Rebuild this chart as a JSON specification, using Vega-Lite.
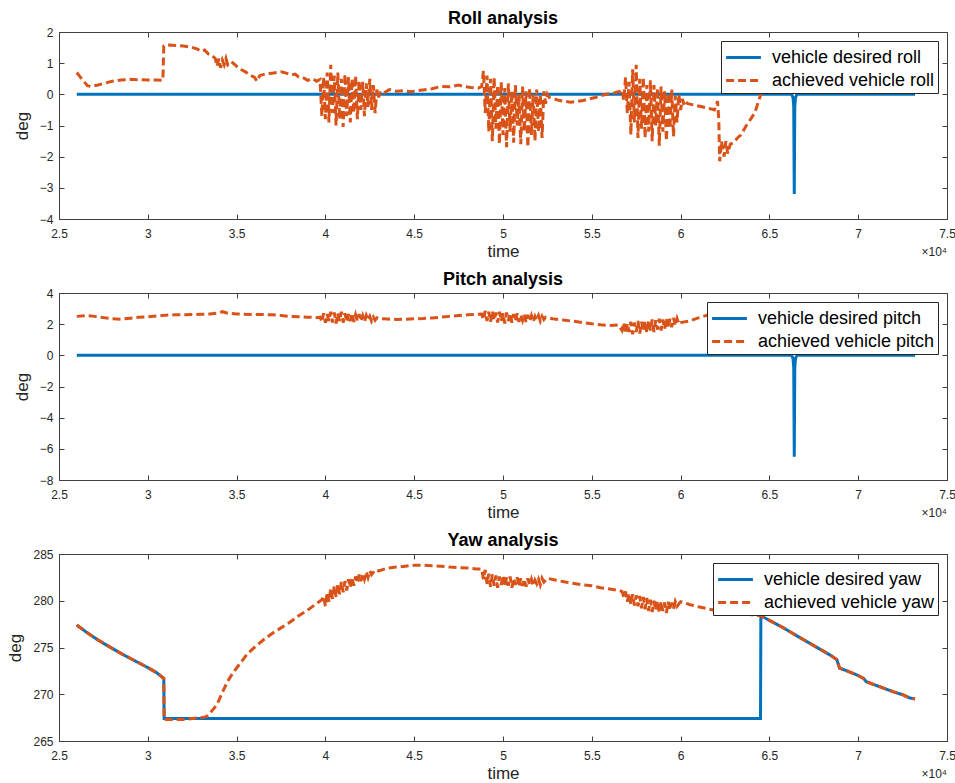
{
  "$schema": "https://vega.github.io/schema/vega-lite/v6.json",
  "background": "white",
  "padding": {"left": 6, "top": 9, "right": 5, "bottom": 2},
  "spacing": 10,
  "config": {
    "font": "Liberation Sans",
    "view": {"stroke": "#404040", "strokeWidth": 1},
    "title": {"fontSize": 18, "fontWeight": "bold", "color": "black", "offset": -2, "font": "Liberation Sans"},
    "axis": {"grid": false, "domain": false, "tickColor": "#404040", "tickSize": -5, "labelColor": "#262626", "labelFontSize": 12, "labelFont": "Liberation Sans", "labelFlush": false, "labelOverlap": false, "titleFont": "Liberation Sans", "titleFontSize": 17, "titleFontWeight": "normal", "titleColor": "#262626"},
    "legend": {"orient": "top-right", "offset": 9, "fillColor": "white", "strokeColor": "#262626", "padding": 3, "labelFontSize": 18, "labelColor": "black", "labelFont": "Liberation Sans", "labelLimit": 0, "symbolType": "M-1.45,0H1.45", "symbolSize": 576, "symbolOffset": 6, "symbolStrokeWidth": 3, "title": null, "rowPadding": 0, "labelOffset": 15}
  },
  "datasets": {
    "roll": [
      {"s":"vehicle desired roll","t":26000,"v":0},{"s":"vehicle desired roll","t":66250,"v":0},{"s":"vehicle desired roll","t":66330,"v":-0.1},{"s":"vehicle desired roll","t":66370,"v":-0.4},{"s":"vehicle desired roll","t":66400,"v":-3.2},{"s":"vehicle desired roll","t":66430,"v":-0.4},{"s":"vehicle desired roll","t":66470,"v":-0.1},{"s":"vehicle desired roll","t":66550,"v":0},{"s":"vehicle desired roll","t":73200,"v":0},
      {"s":"achieved vehicle roll","t":26000,"v":0.7},{"s":"achieved vehicle roll","t":26300,"v":0.48},{"s":"achieved vehicle roll","t":26600,"v":0.28},{"s":"achieved vehicle roll","t":26800,"v":0.25},{"s":"achieved vehicle roll","t":27200,"v":0.3},{"s":"achieved vehicle roll","t":27600,"v":0.36},{"s":"achieved vehicle roll","t":28000,"v":0.42},{"s":"achieved vehicle roll","t":28500,"v":0.46},{"s":"achieved vehicle roll","t":29000,"v":0.48},{"s":"achieved vehicle roll","t":29500,"v":0.47},{"s":"achieved vehicle roll","t":30000,"v":0.46},{"s":"achieved vehicle roll","t":30500,"v":0.46},{"s":"achieved vehicle roll","t":30850,"v":0.45},{"s":"achieved vehicle roll","t":30900,"v":1.55},{"s":"achieved vehicle roll","t":31200,"v":1.58},{"s":"achieved vehicle roll","t":31600,"v":1.57},{"s":"achieved vehicle roll","t":32000,"v":1.55},{"s":"achieved vehicle roll","t":32400,"v":1.52},{"s":"achieved vehicle roll","t":32800,"v":1.45},{"s":"achieved vehicle roll","t":33000,"v":1.38},{"s":"achieved vehicle roll","t":33200,"v":1.42},{"s":"achieved vehicle roll","t":33400,"v":1.3},{"s":"achieved vehicle roll","t":33600,"v":1.25},{"s":"achieved vehicle roll","t":33800,"v":1.15},{"s":"achieved vehicle roll","t":33900,"v":0.9},{"s":"achieved vehicle roll","t":34000,"v":1.15},{"s":"achieved vehicle roll","t":34100,"v":0.85},{"s":"achieved vehicle roll","t":34200,"v":1.1},{"s":"achieved vehicle roll","t":34300,"v":0.95},{"s":"achieved vehicle roll","t":34400,"v":1.15},{"s":"achieved vehicle roll","t":34500,"v":0.95},{"s":"achieved vehicle roll","t":34700,"v":1.05},{"s":"achieved vehicle roll","t":34900,"v":0.95},{"s":"achieved vehicle roll","t":35100,"v":0.85},{"s":"achieved vehicle roll","t":35300,"v":0.78},{"s":"achieved vehicle roll","t":35500,"v":0.72},{"s":"achieved vehicle roll","t":35800,"v":0.6},{"s":"achieved vehicle roll","t":36000,"v":0.55},{"s":"achieved vehicle roll","t":36150,"v":0.42},{"s":"achieved vehicle roll","t":36300,"v":0.6},{"s":"achieved vehicle roll","t":36600,"v":0.65},{"s":"achieved vehicle roll","t":37000,"v":0.68},{"s":"achieved vehicle roll","t":37500,"v":0.72},{"s":"achieved vehicle roll","t":37800,"v":0.68},{"s":"achieved vehicle roll","t":38100,"v":0.62},{"s":"achieved vehicle roll","t":38300,"v":0.65},{"s":"achieved vehicle roll","t":38500,"v":0.55},{"s":"achieved vehicle roll","t":38800,"v":0.52},{"s":"achieved vehicle roll","t":39000,"v":0.45},{"s":"achieved vehicle roll","t":39300,"v":0.5},{"s":"achieved vehicle roll","t":39500,"v":0.42},{"s":"achieved vehicle roll","t":39700,"v":0.48},
      {"s":"achieved vehicle roll","t":39800,"v":-0.7},{"s":"achieved vehicle roll","t":39900,"v":0.55},{"s":"achieved vehicle roll","t":40000,"v":-0.8},{"s":"achieved vehicle roll","t":40100,"v":0.7},{"s":"achieved vehicle roll","t":40200,"v":-0.9},{"s":"achieved vehicle roll","t":40300,"v":0.95},{"s":"achieved vehicle roll","t":40400,"v":-0.6},{"s":"achieved vehicle roll","t":40500,"v":0.6},{"s":"achieved vehicle roll","t":40600,"v":-1.0},{"s":"achieved vehicle roll","t":40700,"v":0.7},{"s":"achieved vehicle roll","t":40800,"v":-0.8},{"s":"achieved vehicle roll","t":40900,"v":0.5},{"s":"achieved vehicle roll","t":41000,"v":-1.05},{"s":"achieved vehicle roll","t":41100,"v":0.65},{"s":"achieved vehicle roll","t":41200,"v":-0.7},{"s":"achieved vehicle roll","t":41300,"v":0.55},{"s":"achieved vehicle roll","t":41400,"v":-0.9},{"s":"achieved vehicle roll","t":41500,"v":0.5},{"s":"achieved vehicle roll","t":41600,"v":-0.6},{"s":"achieved vehicle roll","t":41700,"v":0.6},{"s":"achieved vehicle roll","t":41800,"v":-0.8},{"s":"achieved vehicle roll","t":41900,"v":0.45},{"s":"achieved vehicle roll","t":42000,"v":-0.5},{"s":"achieved vehicle roll","t":42100,"v":0.4},{"s":"achieved vehicle roll","t":42200,"v":-0.7},{"s":"achieved vehicle roll","t":42300,"v":0.35},{"s":"achieved vehicle roll","t":42400,"v":-0.4},{"s":"achieved vehicle roll","t":42500,"v":0.5},{"s":"achieved vehicle roll","t":42600,"v":-0.5},{"s":"achieved vehicle roll","t":42700,"v":0.3},{"s":"achieved vehicle roll","t":42800,"v":-0.6},{"s":"achieved vehicle roll","t":42900,"v":0.15},{"s":"achieved vehicle roll","t":43000,"v":-0.1},{"s":"achieved vehicle roll","t":43100,"v":0.1},{"s":"achieved vehicle roll","t":43300,"v":0.05},{"s":"achieved vehicle roll","t":43600,"v":0.15},{"s":"achieved vehicle roll","t":44000,"v":0.1},{"s":"achieved vehicle roll","t":44400,"v":0.12},{"s":"achieved vehicle roll","t":44800,"v":0.08},{"s":"achieved vehicle roll","t":45200,"v":0.12},{"s":"achieved vehicle roll","t":45600,"v":0.15},{"s":"achieved vehicle roll","t":46000,"v":0.18},{"s":"achieved vehicle roll","t":46500,"v":0.25},{"s":"achieved vehicle roll","t":47000,"v":0.24},{"s":"achieved vehicle roll","t":47500,"v":0.3},{"s":"achieved vehicle roll","t":47800,"v":0.25},{"s":"achieved vehicle roll","t":48200,"v":0.22},{"s":"achieved vehicle roll","t":48600,"v":0.2},{"s":"achieved vehicle roll","t":48800,"v":0.25},
      {"s":"achieved vehicle roll","t":48900,"v":0.75},{"s":"achieved vehicle roll","t":49000,"v":-0.6},{"s":"achieved vehicle roll","t":49100,"v":0.6},{"s":"achieved vehicle roll","t":49200,"v":-1.2},{"s":"achieved vehicle roll","t":49300,"v":0.5},{"s":"achieved vehicle roll","t":49400,"v":-1.5},{"s":"achieved vehicle roll","t":49500,"v":0.55},{"s":"achieved vehicle roll","t":49600,"v":-1.1},{"s":"achieved vehicle roll","t":49700,"v":0.3},{"s":"achieved vehicle roll","t":49800,"v":-1.6},{"s":"achieved vehicle roll","t":49900,"v":0.4},{"s":"achieved vehicle roll","t":50000,"v":-1.3},{"s":"achieved vehicle roll","t":50100,"v":0.2},{"s":"achieved vehicle roll","t":50200,"v":-1.7},{"s":"achieved vehicle roll","t":50300,"v":0.35},{"s":"achieved vehicle roll","t":50400,"v":-1.2},{"s":"achieved vehicle roll","t":50500,"v":0.1},{"s":"achieved vehicle roll","t":50600,"v":-1.55},{"s":"achieved vehicle roll","t":50700,"v":0.3},{"s":"achieved vehicle roll","t":50800,"v":-1.0},{"s":"achieved vehicle roll","t":50900,"v":0.0},{"s":"achieved vehicle roll","t":51000,"v":-1.6},{"s":"achieved vehicle roll","t":51100,"v":0.25},{"s":"achieved vehicle roll","t":51200,"v":-1.2},{"s":"achieved vehicle roll","t":51300,"v":0.1},{"s":"achieved vehicle roll","t":51400,"v":-1.7},{"s":"achieved vehicle roll","t":51500,"v":0.2},{"s":"achieved vehicle roll","t":51600,"v":-1.3},{"s":"achieved vehicle roll","t":51700,"v":0.0},{"s":"achieved vehicle roll","t":51800,"v":-1.5},{"s":"achieved vehicle roll","t":51900,"v":0.15},{"s":"achieved vehicle roll","t":52000,"v":-1.2},{"s":"achieved vehicle roll","t":52100,"v":0.0},{"s":"achieved vehicle roll","t":52200,"v":-1.4},{"s":"achieved vehicle roll","t":52300,"v":0.1},{"s":"achieved vehicle roll","t":52400,"v":-0.3},{"s":"achieved vehicle roll","t":52500,"v":0.0},
      {"s":"achieved vehicle roll","t":52600,"v":-0.1},{"s":"achieved vehicle roll","t":53200,"v":-0.2},{"s":"achieved vehicle roll","t":53800,"v":-0.25},{"s":"achieved vehicle roll","t":54500,"v":-0.2},{"s":"achieved vehicle roll","t":55200,"v":-0.1},{"s":"achieved vehicle roll","t":55800,"v":0.0},{"s":"achieved vehicle roll","t":56300,"v":0.05},{"s":"achieved vehicle roll","t":56600,"v":0.1},
      {"s":"achieved vehicle roll","t":56700,"v":0.15},{"s":"achieved vehicle roll","t":56800,"v":-0.2},{"s":"achieved vehicle roll","t":56900,"v":0.55},{"s":"achieved vehicle roll","t":57000,"v":-0.6},{"s":"achieved vehicle roll","t":57100,"v":0.4},{"s":"achieved vehicle roll","t":57200,"v":-1.3},{"s":"achieved vehicle roll","t":57300,"v":0.8},{"s":"achieved vehicle roll","t":57400,"v":-0.9},{"s":"achieved vehicle roll","t":57500,"v":0.95},{"s":"achieved vehicle roll","t":57600,"v":-1.4},{"s":"achieved vehicle roll","t":57700,"v":0.5},{"s":"achieved vehicle roll","t":57800,"v":-1.1},{"s":"achieved vehicle roll","t":57900,"v":0.55},{"s":"achieved vehicle roll","t":58000,"v":-1.4},{"s":"achieved vehicle roll","t":58100,"v":0.3},{"s":"achieved vehicle roll","t":58200,"v":-1.2},{"s":"achieved vehicle roll","t":58300,"v":0.45},{"s":"achieved vehicle roll","t":58400,"v":-1.5},{"s":"achieved vehicle roll","t":58500,"v":0.3},{"s":"achieved vehicle roll","t":58600,"v":-1.0},{"s":"achieved vehicle roll","t":58700,"v":0.2},{"s":"achieved vehicle roll","t":58800,"v":-1.65},{"s":"achieved vehicle roll","t":58900,"v":0.25},{"s":"achieved vehicle roll","t":59000,"v":-1.2},{"s":"achieved vehicle roll","t":59100,"v":0.1},{"s":"achieved vehicle roll","t":59200,"v":-1.5},{"s":"achieved vehicle roll","t":59300,"v":0.05},{"s":"achieved vehicle roll","t":59400,"v":-1.1},{"s":"achieved vehicle roll","t":59500,"v":0.15},{"s":"achieved vehicle roll","t":59600,"v":-1.35},{"s":"achieved vehicle roll","t":59700,"v":-0.05},{"s":"achieved vehicle roll","t":59800,"v":-0.9},{"s":"achieved vehicle roll","t":59900,"v":0.0},{"s":"achieved vehicle roll","t":60000,"v":-0.5},{"s":"achieved vehicle roll","t":60100,"v":-0.15},{"s":"achieved vehicle roll","t":60200,"v":-0.35},{"s":"achieved vehicle roll","t":60300,"v":-0.25},
      {"s":"achieved vehicle roll","t":60400,"v":-0.3},{"s":"achieved vehicle roll","t":60800,"v":-0.35},{"s":"achieved vehicle roll","t":61200,"v":-0.4},{"s":"achieved vehicle roll","t":61600,"v":-0.45},{"s":"achieved vehicle roll","t":61900,"v":-0.5},{"s":"achieved vehicle roll","t":62080,"v":-0.22},{"s":"achieved vehicle roll","t":62150,"v":-0.8},{"s":"achieved vehicle roll","t":62200,"v":-2.15},{"s":"achieved vehicle roll","t":62300,"v":-1.5},{"s":"achieved vehicle roll","t":62450,"v":-2.0},{"s":"achieved vehicle roll","t":62550,"v":-1.5},{"s":"achieved vehicle roll","t":62650,"v":-1.9},{"s":"achieved vehicle roll","t":62800,"v":-1.6},{"s":"achieved vehicle roll","t":63000,"v":-1.55},{"s":"achieved vehicle roll","t":63200,"v":-1.4},{"s":"achieved vehicle roll","t":63400,"v":-1.3},{"s":"achieved vehicle roll","t":63700,"v":-1.0},{"s":"achieved vehicle roll","t":64000,"v":-0.75},{"s":"achieved vehicle roll","t":64200,"v":-0.55},{"s":"achieved vehicle roll","t":64400,"v":-0.2},{"s":"achieved vehicle roll","t":64550,"v":0.05},{"s":"achieved vehicle roll","t":64680,"v":0.28}
    ],
    "pitch": [
      {"s":"vehicle desired pitch","t":26000,"v":0},{"s":"vehicle desired pitch","t":66250,"v":0},{"s":"vehicle desired pitch","t":66330,"v":-0.2},{"s":"vehicle desired pitch","t":66370,"v":-0.8},{"s":"vehicle desired pitch","t":66400,"v":-6.5},{"s":"vehicle desired pitch","t":66430,"v":-0.8},{"s":"vehicle desired pitch","t":66470,"v":-0.2},{"s":"vehicle desired pitch","t":66550,"v":0},{"s":"vehicle desired pitch","t":73200,"v":0},
      {"s":"achieved vehicle pitch","t":26000,"v":2.5},{"s":"achieved vehicle pitch","t":26500,"v":2.55},{"s":"achieved vehicle pitch","t":27000,"v":2.5},{"s":"achieved vehicle pitch","t":27500,"v":2.42},{"s":"achieved vehicle pitch","t":28000,"v":2.35},{"s":"achieved vehicle pitch","t":28500,"v":2.32},{"s":"achieved vehicle pitch","t":29000,"v":2.38},{"s":"achieved vehicle pitch","t":29500,"v":2.45},{"s":"achieved vehicle pitch","t":30000,"v":2.47},{"s":"achieved vehicle pitch","t":30500,"v":2.52},{"s":"achieved vehicle pitch","t":31000,"v":2.58},{"s":"achieved vehicle pitch","t":31500,"v":2.6},{"s":"achieved vehicle pitch","t":32000,"v":2.6},{"s":"achieved vehicle pitch","t":32500,"v":2.62},{"s":"achieved vehicle pitch","t":33000,"v":2.63},{"s":"achieved vehicle pitch","t":33500,"v":2.65},{"s":"achieved vehicle pitch","t":34000,"v":2.72},{"s":"achieved vehicle pitch","t":34200,"v":2.8},{"s":"achieved vehicle pitch","t":34500,"v":2.7},{"s":"achieved vehicle pitch","t":35000,"v":2.66},{"s":"achieved vehicle pitch","t":35500,"v":2.63},{"s":"achieved vehicle pitch","t":36000,"v":2.62},{"s":"achieved vehicle pitch","t":36500,"v":2.62},{"s":"achieved vehicle pitch","t":37000,"v":2.6},{"s":"achieved vehicle pitch","t":37500,"v":2.56},{"s":"achieved vehicle pitch","t":38000,"v":2.5},{"s":"achieved vehicle pitch","t":38500,"v":2.47},{"s":"achieved vehicle pitch","t":39000,"v":2.45},{"s":"achieved vehicle pitch","t":39500,"v":2.42},{"s":"achieved vehicle pitch","t":39700,"v":2.45},
      {"s":"achieved vehicle pitch","t":39800,"v":2.15},{"s":"achieved vehicle pitch","t":39900,"v":2.7},{"s":"achieved vehicle pitch","t":40000,"v":2.1},{"s":"achieved vehicle pitch","t":40100,"v":2.65},{"s":"achieved vehicle pitch","t":40200,"v":2.2},{"s":"achieved vehicle pitch","t":40300,"v":2.8},{"s":"achieved vehicle pitch","t":40400,"v":2.1},{"s":"achieved vehicle pitch","t":40500,"v":2.75},{"s":"achieved vehicle pitch","t":40600,"v":2.05},{"s":"achieved vehicle pitch","t":40700,"v":2.7},{"s":"achieved vehicle pitch","t":40800,"v":2.2},{"s":"achieved vehicle pitch","t":40900,"v":2.8},{"s":"achieved vehicle pitch","t":41000,"v":2.1},{"s":"achieved vehicle pitch","t":41100,"v":2.7},{"s":"achieved vehicle pitch","t":41200,"v":2.15},{"s":"achieved vehicle pitch","t":41300,"v":2.65},{"s":"achieved vehicle pitch","t":41400,"v":2.2},{"s":"achieved vehicle pitch","t":41500,"v":2.7},{"s":"achieved vehicle pitch","t":41600,"v":2.15},{"s":"achieved vehicle pitch","t":41700,"v":2.6},{"s":"achieved vehicle pitch","t":41800,"v":2.2},{"s":"achieved vehicle pitch","t":41900,"v":2.65},{"s":"achieved vehicle pitch","t":42000,"v":2.2},{"s":"achieved vehicle pitch","t":42100,"v":2.55},{"s":"achieved vehicle pitch","t":42200,"v":2.15},{"s":"achieved vehicle pitch","t":42300,"v":2.55},{"s":"achieved vehicle pitch","t":42400,"v":2.25},{"s":"achieved vehicle pitch","t":42500,"v":2.5},{"s":"achieved vehicle pitch","t":42600,"v":2.2},{"s":"achieved vehicle pitch","t":42700,"v":2.45},{"s":"achieved vehicle pitch","t":42800,"v":2.25},{"s":"achieved vehicle pitch","t":42900,"v":2.4},{"s":"achieved vehicle pitch","t":43000,"v":2.35},
      {"s":"achieved vehicle pitch","t":43500,"v":2.33},{"s":"achieved vehicle pitch","t":44000,"v":2.3},{"s":"achieved vehicle pitch","t":44500,"v":2.32},{"s":"achieved vehicle pitch","t":45000,"v":2.34},{"s":"achieved vehicle pitch","t":45500,"v":2.36},{"s":"achieved vehicle pitch","t":46000,"v":2.4},{"s":"achieved vehicle pitch","t":46500,"v":2.45},{"s":"achieved vehicle pitch","t":47000,"v":2.5},{"s":"achieved vehicle pitch","t":47500,"v":2.55},{"s":"achieved vehicle pitch","t":48000,"v":2.6},{"s":"achieved vehicle pitch","t":48500,"v":2.63},{"s":"achieved vehicle pitch","t":48800,"v":2.65},
      {"s":"achieved vehicle pitch","t":48900,"v":2.3},{"s":"achieved vehicle pitch","t":49000,"v":2.85},{"s":"achieved vehicle pitch","t":49100,"v":2.2},{"s":"achieved vehicle pitch","t":49200,"v":2.8},{"s":"achieved vehicle pitch","t":49300,"v":2.15},{"s":"achieved vehicle pitch","t":49400,"v":2.85},{"s":"achieved vehicle pitch","t":49500,"v":2.25},{"s":"achieved vehicle pitch","t":49600,"v":2.75},{"s":"achieved vehicle pitch","t":49700,"v":2.1},{"s":"achieved vehicle pitch","t":49800,"v":2.8},{"s":"achieved vehicle pitch","t":49900,"v":2.2},{"s":"achieved vehicle pitch","t":50000,"v":2.7},{"s":"achieved vehicle pitch","t":50100,"v":2.05},{"s":"achieved vehicle pitch","t":50200,"v":2.75},{"s":"achieved vehicle pitch","t":50300,"v":2.2},{"s":"achieved vehicle pitch","t":50400,"v":2.7},{"s":"achieved vehicle pitch","t":50500,"v":2.1},{"s":"achieved vehicle pitch","t":50600,"v":2.65},{"s":"achieved vehicle pitch","t":50700,"v":2.2},{"s":"achieved vehicle pitch","t":50800,"v":2.7},{"s":"achieved vehicle pitch","t":50900,"v":2.15},{"s":"achieved vehicle pitch","t":51000,"v":2.6},{"s":"achieved vehicle pitch","t":51100,"v":2.25},{"s":"achieved vehicle pitch","t":51200,"v":2.65},{"s":"achieved vehicle pitch","t":51300,"v":2.1},{"s":"achieved vehicle pitch","t":51400,"v":2.6},{"s":"achieved vehicle pitch","t":51500,"v":2.2},{"s":"achieved vehicle pitch","t":51600,"v":2.55},{"s":"achieved vehicle pitch","t":51700,"v":2.15},{"s":"achieved vehicle pitch","t":51800,"v":2.5},{"s":"achieved vehicle pitch","t":51900,"v":2.25},{"s":"achieved vehicle pitch","t":52000,"v":2.55},{"s":"achieved vehicle pitch","t":52100,"v":2.2},{"s":"achieved vehicle pitch","t":52200,"v":2.5},{"s":"achieved vehicle pitch","t":52300,"v":2.3},{"s":"achieved vehicle pitch","t":52400,"v":2.45},
      {"s":"achieved vehicle pitch","t":52800,"v":2.35},{"s":"achieved vehicle pitch","t":53500,"v":2.25},{"s":"achieved vehicle pitch","t":54000,"v":2.18},{"s":"achieved vehicle pitch","t":54500,"v":2.1},{"s":"achieved vehicle pitch","t":55000,"v":2.02},{"s":"achieved vehicle pitch","t":55500,"v":1.96},{"s":"achieved vehicle pitch","t":56000,"v":1.92},{"s":"achieved vehicle pitch","t":56500,"v":1.95},
      {"s":"achieved vehicle pitch","t":56700,"v":1.6},{"s":"achieved vehicle pitch","t":56800,"v":2.1},{"s":"achieved vehicle pitch","t":56900,"v":1.4},{"s":"achieved vehicle pitch","t":57000,"v":2.05},{"s":"achieved vehicle pitch","t":57100,"v":1.5},{"s":"achieved vehicle pitch","t":57200,"v":2.15},{"s":"achieved vehicle pitch","t":57300,"v":1.35},{"s":"achieved vehicle pitch","t":57400,"v":2.1},{"s":"achieved vehicle pitch","t":57500,"v":1.5},{"s":"achieved vehicle pitch","t":57600,"v":2.2},{"s":"achieved vehicle pitch","t":57700,"v":1.4},{"s":"achieved vehicle pitch","t":57800,"v":2.15},{"s":"achieved vehicle pitch","t":57900,"v":1.55},{"s":"achieved vehicle pitch","t":58000,"v":2.2},{"s":"achieved vehicle pitch","t":58100,"v":1.45},{"s":"achieved vehicle pitch","t":58200,"v":2.25},{"s":"achieved vehicle pitch","t":58300,"v":1.6},{"s":"achieved vehicle pitch","t":58400,"v":2.3},{"s":"achieved vehicle pitch","t":58500,"v":1.5},{"s":"achieved vehicle pitch","t":58600,"v":2.25},{"s":"achieved vehicle pitch","t":58700,"v":1.65},{"s":"achieved vehicle pitch","t":58800,"v":2.35},{"s":"achieved vehicle pitch","t":58900,"v":1.6},{"s":"achieved vehicle pitch","t":59000,"v":2.3},{"s":"achieved vehicle pitch","t":59100,"v":1.7},{"s":"achieved vehicle pitch","t":59200,"v":2.4},{"s":"achieved vehicle pitch","t":59300,"v":1.75},{"s":"achieved vehicle pitch","t":59400,"v":2.35},{"s":"achieved vehicle pitch","t":59500,"v":1.8},{"s":"achieved vehicle pitch","t":59600,"v":2.4},{"s":"achieved vehicle pitch","t":59700,"v":1.9},{"s":"achieved vehicle pitch","t":59800,"v":2.35},{"s":"achieved vehicle pitch","t":59900,"v":2.0},{"s":"achieved vehicle pitch","t":60000,"v":2.1},
      {"s":"achieved vehicle pitch","t":60500,"v":2.2},{"s":"achieved vehicle pitch","t":61000,"v":2.4},{"s":"achieved vehicle pitch","t":61500,"v":2.58},{"s":"achieved vehicle pitch","t":62000,"v":2.7},{"s":"achieved vehicle pitch","t":62500,"v":2.8},{"s":"achieved vehicle pitch","t":63000,"v":2.85},{"s":"achieved vehicle pitch","t":63500,"v":2.9},{"s":"achieved vehicle pitch","t":64000,"v":2.95},{"s":"achieved vehicle pitch","t":64600,"v":3.0}
    ],
    "yaw": [
      {"s":"vehicle desired yaw","t":26000,"v":277.4},{"s":"vehicle desired yaw","t":26500,"v":276.7},{"s":"vehicle desired yaw","t":27000,"v":276.05},{"s":"vehicle desired yaw","t":27500,"v":275.45},{"s":"vehicle desired yaw","t":28000,"v":274.9},{"s":"vehicle desired yaw","t":28500,"v":274.35},{"s":"vehicle desired yaw","t":29000,"v":273.85},{"s":"vehicle desired yaw","t":29500,"v":273.35},{"s":"vehicle desired yaw","t":30000,"v":272.85},{"s":"vehicle desired yaw","t":30500,"v":272.3},{"s":"vehicle desired yaw","t":30900,"v":271.7},{"s":"vehicle desired yaw","t":30920,"v":267.4},{"s":"vehicle desired yaw","t":64500,"v":267.4},{"s":"vehicle desired yaw","t":64520,"v":278.4},{"s":"vehicle desired yaw","t":65000,"v":277.9},{"s":"vehicle desired yaw","t":65700,"v":277.2},{"s":"vehicle desired yaw","t":66500,"v":276.3},{"s":"vehicle desired yaw","t":67500,"v":275.2},{"s":"vehicle desired yaw","t":68500,"v":274.1},{"s":"vehicle desired yaw","t":68800,"v":273.7},{"s":"vehicle desired yaw","t":68880,"v":273.2},{"s":"vehicle desired yaw","t":68950,"v":272.8},{"s":"vehicle desired yaw","t":69500,"v":272.4},{"s":"vehicle desired yaw","t":70000,"v":272.0},{"s":"vehicle desired yaw","t":70300,"v":271.7},{"s":"vehicle desired yaw","t":70450,"v":271.35},{"s":"vehicle desired yaw","t":71000,"v":270.95},{"s":"vehicle desired yaw","t":71500,"v":270.6},{"s":"vehicle desired yaw","t":72000,"v":270.25},{"s":"vehicle desired yaw","t":72500,"v":269.95},{"s":"vehicle desired yaw","t":72900,"v":269.6},{"s":"vehicle desired yaw","t":73200,"v":269.5},
      {"s":"achieved vehicle yaw","t":26000,"v":277.4},{"s":"achieved vehicle yaw","t":26500,"v":276.7},{"s":"achieved vehicle yaw","t":27000,"v":276.05},{"s":"achieved vehicle yaw","t":27500,"v":275.45},{"s":"achieved vehicle yaw","t":28000,"v":274.9},{"s":"achieved vehicle yaw","t":28500,"v":274.35},{"s":"achieved vehicle yaw","t":29000,"v":273.85},{"s":"achieved vehicle yaw","t":29500,"v":273.35},{"s":"achieved vehicle yaw","t":30000,"v":272.85},{"s":"achieved vehicle yaw","t":30500,"v":272.3},{"s":"achieved vehicle yaw","t":30900,"v":271.7},{"s":"achieved vehicle yaw","t":30920,"v":267.3},{"s":"achieved vehicle yaw","t":31500,"v":267.3},{"s":"achieved vehicle yaw","t":32000,"v":267.3},{"s":"achieved vehicle yaw","t":32500,"v":267.4},{"s":"achieved vehicle yaw","t":33000,"v":267.5},{"s":"achieved vehicle yaw","t":33300,"v":267.6},{"s":"achieved vehicle yaw","t":33600,"v":268.2},{"s":"achieved vehicle yaw","t":33900,"v":268.9},{"s":"achieved vehicle yaw","t":34200,"v":270.2},{"s":"achieved vehicle yaw","t":34500,"v":271.4},{"s":"achieved vehicle yaw","t":34800,"v":272.3},{"s":"achieved vehicle yaw","t":35200,"v":273.3},{"s":"achieved vehicle yaw","t":35600,"v":274.3},{"s":"achieved vehicle yaw","t":36000,"v":275.0},{"s":"achieved vehicle yaw","t":36500,"v":275.8},{"s":"achieved vehicle yaw","t":37000,"v":276.5},{"s":"achieved vehicle yaw","t":37500,"v":277.1},{"s":"achieved vehicle yaw","t":38000,"v":277.7},{"s":"achieved vehicle yaw","t":38500,"v":278.4},{"s":"achieved vehicle yaw","t":39000,"v":279.0},{"s":"achieved vehicle yaw","t":39500,"v":279.7},{"s":"achieved vehicle yaw","t":39800,"v":280.1},
      {"s":"achieved vehicle yaw","t":39900,"v":280.5},{"s":"achieved vehicle yaw","t":40000,"v":279.4},{"s":"achieved vehicle yaw","t":40100,"v":280.9},{"s":"achieved vehicle yaw","t":40200,"v":279.9},{"s":"achieved vehicle yaw","t":40300,"v":281.3},{"s":"achieved vehicle yaw","t":40400,"v":280.2},{"s":"achieved vehicle yaw","t":40500,"v":281.6},{"s":"achieved vehicle yaw","t":40600,"v":280.4},{"s":"achieved vehicle yaw","t":40700,"v":281.8},{"s":"achieved vehicle yaw","t":40800,"v":280.7},{"s":"achieved vehicle yaw","t":40900,"v":282.0},{"s":"achieved vehicle yaw","t":41000,"v":280.9},{"s":"achieved vehicle yaw","t":41100,"v":282.1},{"s":"achieved vehicle yaw","t":41200,"v":281.1},{"s":"achieved vehicle yaw","t":41300,"v":282.3},{"s":"achieved vehicle yaw","t":41400,"v":281.4},{"s":"achieved vehicle yaw","t":41500,"v":282.5},{"s":"achieved vehicle yaw","t":41600,"v":281.6},{"s":"achieved vehicle yaw","t":41700,"v":282.6},{"s":"achieved vehicle yaw","t":41800,"v":281.9},{"s":"achieved vehicle yaw","t":41900,"v":282.8},{"s":"achieved vehicle yaw","t":42000,"v":282.1},{"s":"achieved vehicle yaw","t":42100,"v":282.9},{"s":"achieved vehicle yaw","t":42200,"v":282.3},{"s":"achieved vehicle yaw","t":42300,"v":283.1},{"s":"achieved vehicle yaw","t":42400,"v":282.5},{"s":"achieved vehicle yaw","t":42500,"v":283.2},{"s":"achieved vehicle yaw","t":42600,"v":282.8},{"s":"achieved vehicle yaw","t":42800,"v":283.3},{"s":"achieved vehicle yaw","t":43000,"v":283.2},
      {"s":"achieved vehicle yaw","t":43500,"v":283.5},{"s":"achieved vehicle yaw","t":44000,"v":283.6},{"s":"achieved vehicle yaw","t":44500,"v":283.7},{"s":"achieved vehicle yaw","t":45000,"v":283.8},{"s":"achieved vehicle yaw","t":45500,"v":283.8},{"s":"achieved vehicle yaw","t":46000,"v":283.75},{"s":"achieved vehicle yaw","t":46500,"v":283.7},{"s":"achieved vehicle yaw","t":47000,"v":283.6},{"s":"achieved vehicle yaw","t":47500,"v":283.55},{"s":"achieved vehicle yaw","t":48000,"v":283.5},{"s":"achieved vehicle yaw","t":48500,"v":283.4},{"s":"achieved vehicle yaw","t":48800,"v":283.4},
      {"s":"achieved vehicle yaw","t":48900,"v":282.3},{"s":"achieved vehicle yaw","t":49000,"v":283.3},{"s":"achieved vehicle yaw","t":49100,"v":281.8},{"s":"achieved vehicle yaw","t":49200,"v":282.9},{"s":"achieved vehicle yaw","t":49300,"v":281.5},{"s":"achieved vehicle yaw","t":49400,"v":282.8},{"s":"achieved vehicle yaw","t":49500,"v":281.6},{"s":"achieved vehicle yaw","t":49600,"v":282.7},{"s":"achieved vehicle yaw","t":49700,"v":281.4},{"s":"achieved vehicle yaw","t":49800,"v":282.6},{"s":"achieved vehicle yaw","t":49900,"v":281.7},{"s":"achieved vehicle yaw","t":50000,"v":282.7},{"s":"achieved vehicle yaw","t":50100,"v":281.5},{"s":"achieved vehicle yaw","t":50200,"v":282.5},{"s":"achieved vehicle yaw","t":50300,"v":281.6},{"s":"achieved vehicle yaw","t":50400,"v":282.6},{"s":"achieved vehicle yaw","t":50500,"v":281.4},{"s":"achieved vehicle yaw","t":50600,"v":282.4},{"s":"achieved vehicle yaw","t":50700,"v":281.7},{"s":"achieved vehicle yaw","t":50800,"v":282.5},{"s":"achieved vehicle yaw","t":50900,"v":281.5},{"s":"achieved vehicle yaw","t":51000,"v":282.4},{"s":"achieved vehicle yaw","t":51100,"v":281.6},{"s":"achieved vehicle yaw","t":51200,"v":282.3},{"s":"achieved vehicle yaw","t":51300,"v":281.5},{"s":"achieved vehicle yaw","t":51400,"v":282.4},{"s":"achieved vehicle yaw","t":51500,"v":281.7},{"s":"achieved vehicle yaw","t":51600,"v":282.3},{"s":"achieved vehicle yaw","t":51700,"v":281.6},{"s":"achieved vehicle yaw","t":51800,"v":282.2},{"s":"achieved vehicle yaw","t":51900,"v":281.8},{"s":"achieved vehicle yaw","t":52000,"v":282.3},{"s":"achieved vehicle yaw","t":52100,"v":281.7},{"s":"achieved vehicle yaw","t":52200,"v":282.4},{"s":"achieved vehicle yaw","t":52300,"v":282.0},
      {"s":"achieved vehicle yaw","t":52500,"v":282.4},{"s":"achieved vehicle yaw","t":53000,"v":282.2},{"s":"achieved vehicle yaw","t":53500,"v":282.0},{"s":"achieved vehicle yaw","t":54000,"v":281.85},{"s":"achieved vehicle yaw","t":54500,"v":281.7},{"s":"achieved vehicle yaw","t":55000,"v":281.6},{"s":"achieved vehicle yaw","t":55500,"v":281.4},{"s":"achieved vehicle yaw","t":56000,"v":281.25},{"s":"achieved vehicle yaw","t":56500,"v":281.1},{"s":"achieved vehicle yaw","t":56700,"v":281.0},
      {"s":"achieved vehicle yaw","t":56800,"v":280.4},{"s":"achieved vehicle yaw","t":56900,"v":281.0},{"s":"achieved vehicle yaw","t":57000,"v":279.9},{"s":"achieved vehicle yaw","t":57100,"v":280.8},{"s":"achieved vehicle yaw","t":57200,"v":279.6},{"s":"achieved vehicle yaw","t":57300,"v":280.7},{"s":"achieved vehicle yaw","t":57400,"v":279.5},{"s":"achieved vehicle yaw","t":57500,"v":280.6},{"s":"achieved vehicle yaw","t":57600,"v":279.4},{"s":"achieved vehicle yaw","t":57700,"v":280.5},{"s":"achieved vehicle yaw","t":57800,"v":279.2},{"s":"achieved vehicle yaw","t":57900,"v":280.4},{"s":"achieved vehicle yaw","t":58000,"v":279.1},{"s":"achieved vehicle yaw","t":58100,"v":280.3},{"s":"achieved vehicle yaw","t":58200,"v":278.9},{"s":"achieved vehicle yaw","t":58300,"v":280.1},{"s":"achieved vehicle yaw","t":58400,"v":278.8},{"s":"achieved vehicle yaw","t":58500,"v":280.0},{"s":"achieved vehicle yaw","t":58600,"v":279.0},{"s":"achieved vehicle yaw","t":58700,"v":280.0},{"s":"achieved vehicle yaw","t":58800,"v":278.7},{"s":"achieved vehicle yaw","t":58900,"v":279.9},{"s":"achieved vehicle yaw","t":59000,"v":278.9},{"s":"achieved vehicle yaw","t":59100,"v":279.8},{"s":"achieved vehicle yaw","t":59200,"v":278.7},{"s":"achieved vehicle yaw","t":59300,"v":279.9},{"s":"achieved vehicle yaw","t":59400,"v":279.0},{"s":"achieved vehicle yaw","t":59500,"v":279.8},{"s":"achieved vehicle yaw","t":59600,"v":279.1},{"s":"achieved vehicle yaw","t":59700,"v":279.9},{"s":"achieved vehicle yaw","t":59800,"v":279.4},{"s":"achieved vehicle yaw","t":60000,"v":279.9},
      {"s":"achieved vehicle yaw","t":60500,"v":279.6},{"s":"achieved vehicle yaw","t":61000,"v":279.35},{"s":"achieved vehicle yaw","t":61500,"v":279.15},{"s":"achieved vehicle yaw","t":62000,"v":278.95},{"s":"achieved vehicle yaw","t":62500,"v":278.8},{"s":"achieved vehicle yaw","t":63000,"v":278.7},{"s":"achieved vehicle yaw","t":63500,"v":278.6},{"s":"achieved vehicle yaw","t":64000,"v":278.5},{"s":"achieved vehicle yaw","t":64520,"v":278.4},{"s":"achieved vehicle yaw","t":65000,"v":277.9},{"s":"achieved vehicle yaw","t":65700,"v":277.2},{"s":"achieved vehicle yaw","t":66500,"v":276.3},{"s":"achieved vehicle yaw","t":67500,"v":275.2},{"s":"achieved vehicle yaw","t":68500,"v":274.1},{"s":"achieved vehicle yaw","t":68800,"v":273.7},{"s":"achieved vehicle yaw","t":68880,"v":273.2},{"s":"achieved vehicle yaw","t":68950,"v":272.8},{"s":"achieved vehicle yaw","t":69500,"v":272.4},{"s":"achieved vehicle yaw","t":70000,"v":272.0},{"s":"achieved vehicle yaw","t":70300,"v":271.7},{"s":"achieved vehicle yaw","t":70450,"v":271.35},{"s":"achieved vehicle yaw","t":71000,"v":270.95},{"s":"achieved vehicle yaw","t":71500,"v":270.6},{"s":"achieved vehicle yaw","t":72000,"v":270.25},{"s":"achieved vehicle yaw","t":72500,"v":269.95},{"s":"achieved vehicle yaw","t":72900,"v":269.6},{"s":"achieved vehicle yaw","t":73200,"v":269.5}
    ],
    "expo": [{"label": "×10⁴"}]
  },
  "resolve": {"scale": {"color": "independent", "strokeDash": "independent"}, "legend": {"color": "independent", "strokeDash": "independent"}},
  "vconcat": [
    {
      "title": "Roll analysis",
      "width": 888, "height": 187,
      "data": {"name": "roll"},
      "layer": [
        {
          "transform": [{"filter": "datum.s == 'vehicle desired roll'"}],
          "mark": {"type": "line", "strokeWidth": 3},
          "encoding": {
            "x": {"field": "t", "type": "quantitative", "scale": {"domain": [25000, 75000], "nice": false}, "axis": {"title": "time", "values": [25000, 30000, 35000, 40000, 45000, 50000, 55000, 60000, 65000, 70000, 75000], "labelExpr": "datum.value / 10000", "labelPadding": 14, "titlePadding": 4}},
            "y": {"field": "v", "type": "quantitative", "scale": {"domain": [-4, 2], "nice": false}, "axis": {"title": "deg", "values": [-4, -3, -2, -1, 0, 1, 2], "labelPadding": 11, "titlePadding": 8}},
            "color": {"field": "s", "type": "nominal", "scale": {"domain": ["vehicle desired roll", "achieved vehicle roll"], "range": ["#0072BD", "#D95319"]}, "legend": {"title": null}},
            "strokeDash": {"field": "s", "type": "nominal", "scale": {"domain": ["vehicle desired roll", "achieved vehicle roll"], "range": [[1, 0], [8, 4]]}, "legend": {"title": null}}
          }
        },
        {
          "transform": [{"filter": "datum.s == 'achieved vehicle roll'"}],
          "mark": {"type": "line", "strokeWidth": 3},
          "encoding": {
            "x": {"field": "t", "type": "quantitative", "axis": null},
            "y": {"field": "v", "type": "quantitative", "axis": null},
            "color": {"field": "s", "type": "nominal", "legend": {"title": null}},
            "strokeDash": {"field": "s", "type": "nominal", "legend": {"title": null}}
          }
        },
        {
          "data": {"name": "expo"},
          "mark": {"type": "text", "align": "right", "baseline": "middle", "dy": 33, "fontSize": 12, "color": "#262626"},
          "encoding": {
            "x": {"datum": 75000, "type": "quantitative", "axis": {"orient": "top", "labels": false, "title": null, "values": [25000, 30000, 35000, 40000, 45000, 50000, 55000, 60000, 65000, 70000, 75000]}},
            "y": {"datum": -4, "type": "quantitative", "axis": {"orient": "right", "labels": false, "title": null, "values": [-4, -3, -2, -1, 0, 1, 2]}},
            "text": {"field": "label"}
          }
        }
      ],
      "resolve": {"axis": {"x": "independent", "y": "independent"}}
    },
    {
      "title": "Pitch analysis",
      "width": 888, "height": 187,
      "data": {"name": "pitch"},
      "layer": [
        {
          "transform": [{"filter": "datum.s == 'vehicle desired pitch'"}],
          "mark": {"type": "line", "strokeWidth": 3},
          "encoding": {
            "x": {"field": "t", "type": "quantitative", "scale": {"domain": [25000, 75000], "nice": false}, "axis": {"title": "time", "values": [25000, 30000, 35000, 40000, 45000, 50000, 55000, 60000, 65000, 70000, 75000], "labelExpr": "datum.value / 10000", "labelPadding": 14, "titlePadding": 4}},
            "y": {"field": "v", "type": "quantitative", "scale": {"domain": [-8, 4], "nice": false}, "axis": {"title": "deg", "values": [-8, -6, -4, -2, 0, 2, 4], "labelPadding": 11, "titlePadding": 8}},
            "color": {"field": "s", "type": "nominal", "scale": {"domain": ["vehicle desired pitch", "achieved vehicle pitch"], "range": ["#0072BD", "#D95319"]}, "legend": {"title": null}},
            "strokeDash": {"field": "s", "type": "nominal", "scale": {"domain": ["vehicle desired pitch", "achieved vehicle pitch"], "range": [[1, 0], [8, 4]]}, "legend": {"title": null}}
          }
        },
        {
          "transform": [{"filter": "datum.s == 'achieved vehicle pitch'"}],
          "mark": {"type": "line", "strokeWidth": 3},
          "encoding": {
            "x": {"field": "t", "type": "quantitative", "axis": null},
            "y": {"field": "v", "type": "quantitative", "axis": null},
            "color": {"field": "s", "type": "nominal", "legend": {"title": null}},
            "strokeDash": {"field": "s", "type": "nominal", "legend": {"title": null}}
          }
        },
        {
          "data": {"name": "expo"},
          "mark": {"type": "text", "align": "right", "baseline": "middle", "dy": 33, "fontSize": 12, "color": "#262626"},
          "encoding": {
            "x": {"datum": 75000, "type": "quantitative", "axis": {"orient": "top", "labels": false, "title": null, "values": [25000, 30000, 35000, 40000, 45000, 50000, 55000, 60000, 65000, 70000, 75000]}},
            "y": {"datum": -8, "type": "quantitative", "axis": {"orient": "right", "labels": false, "title": null, "values": [-8, -6, -4, -2, 0, 2, 4]}},
            "text": {"field": "label"}
          }
        }
      ],
      "resolve": {"axis": {"x": "independent", "y": "independent"}}
    },
    {
      "title": "Yaw analysis",
      "width": 888, "height": 187,
      "data": {"name": "yaw"},
      "layer": [
        {
          "transform": [{"filter": "datum.s == 'vehicle desired yaw'"}],
          "mark": {"type": "line", "strokeWidth": 3},
          "encoding": {
            "x": {"field": "t", "type": "quantitative", "scale": {"domain": [25000, 75000], "nice": false}, "axis": {"title": "time", "values": [25000, 30000, 35000, 40000, 45000, 50000, 55000, 60000, 65000, 70000, 75000], "labelExpr": "datum.value / 10000", "labelPadding": 14, "titlePadding": 4}},
            "y": {"field": "v", "type": "quantitative", "scale": {"domain": [265, 285], "nice": false, "zero": false}, "axis": {"title": "deg", "values": [265, 270, 275, 280, 285], "labelPadding": 11, "titlePadding": 8}},
            "color": {"field": "s", "type": "nominal", "scale": {"domain": ["vehicle desired yaw", "achieved vehicle yaw"], "range": ["#0072BD", "#D95319"]}, "legend": {"title": null}},
            "strokeDash": {"field": "s", "type": "nominal", "scale": {"domain": ["vehicle desired yaw", "achieved vehicle yaw"], "range": [[1, 0], [8, 4]]}, "legend": {"title": null}}
          }
        },
        {
          "transform": [{"filter": "datum.s == 'achieved vehicle yaw'"}],
          "mark": {"type": "line", "strokeWidth": 3},
          "encoding": {
            "x": {"field": "t", "type": "quantitative", "axis": null},
            "y": {"field": "v", "type": "quantitative", "axis": null},
            "color": {"field": "s", "type": "nominal", "legend": {"title": null}},
            "strokeDash": {"field": "s", "type": "nominal", "legend": {"title": null}}
          }
        },
        {
          "data": {"name": "expo"},
          "mark": {"type": "text", "align": "right", "baseline": "middle", "dy": 33, "fontSize": 12, "color": "#262626"},
          "encoding": {
            "x": {"datum": 75000, "type": "quantitative", "axis": {"orient": "top", "labels": false, "title": null, "values": [25000, 30000, 35000, 40000, 45000, 50000, 55000, 60000, 65000, 70000, 75000]}},
            "y": {"datum": 265, "type": "quantitative", "axis": {"orient": "right", "labels": false, "title": null, "values": [265, 270, 275, 280, 285]}},
            "text": {"field": "label"}
          }
        }
      ],
      "resolve": {"axis": {"x": "independent", "y": "independent"}}
    }
  ]
}
